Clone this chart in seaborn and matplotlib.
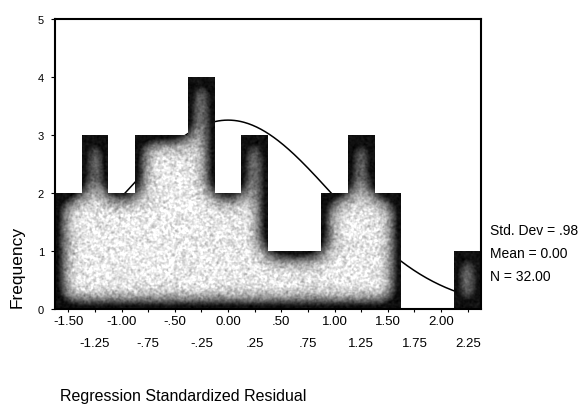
import numpy as np
import pandas as pd
import matplotlib
matplotlib.use("Agg")
import matplotlib.pyplot as plt
import seaborn as sns
from matplotlib.path import Path

# Histogram of regression standardized residuals
bin_centers = [-1.50, -1.25, -1.00, -0.75, -0.50, -0.25, 0.00, 0.25,
               0.50, 0.75, 1.00, 1.25, 1.50, 1.75, 2.00, 2.25]
counts = [2, 3, 2, 3, 3, 4, 2, 3, 1, 1, 2, 3, 2, 0, 0, 1]

upper_ticks = [-1.50, -1.00, -0.50, 0.00, 0.50, 1.00, 1.50, 2.00]
upper_labels = ["-1.50", "-1.00", "-.50", "0.00", ".50", "1.00", "1.50", "2.00"]
lower_ticks = [-1.25, -0.75, -0.25, 0.25, 0.75, 1.25, 1.75, 2.25]
lower_labels = ["-1.25", "-.75", "-.25", ".25", ".75", "1.25", "1.75", "2.25"]
y_ticks = [0, 1, 2, 3, 4, 5]

std_dev = 0.98
mean = 0.00
n_cases = 32
bin_width = 0.25

sns.set_style("ticks", {"text.color": "black", "xtick.color": "black",
                        "ytick.color": "black", "axes.labelcolor": "black"})
plt.rcParams["font.family"] = ["Liberation Sans", "DejaVu Sans"]

W_PX, H_PX = 581, 410
fig = plt.figure(figsize=(W_PX / 100, H_PX / 100), dpi=100)
ax_left, ax_right, ax_top, ax_bottom = 55, 481, 20, 310
ax = fig.add_axes([ax_left / W_PX, 1 - ax_bottom / H_PX,
                   (ax_right - ax_left) / W_PX, (ax_bottom - ax_top) / H_PX])

edges = [c - bin_width / 2 for c in bin_centers] + [bin_centers[-1] + bin_width / 2]
x_lo, x_hi = edges[0], edges[-1]

df = pd.DataFrame({"residual": bin_centers, "count": counts})

# normal curve for the stated mean / std. dev, scaled to the counts
xs = np.linspace(x_lo, x_hi, 400)
curve = n_cases * bin_width * np.exp(-0.5 * ((xs - mean) / std_dev) ** 2) / (std_dev * np.sqrt(2 * np.pi))
ax.plot(xs, curve, color="black", linewidth=1.1, zorder=1)

sns.histplot(data=df, x="residual", weights="count", bins=edges, stat="count",
             color="#111111", alpha=1, edgecolor="none", linewidth=0, ax=ax, zorder=2)

ax.set_xlim(x_lo, x_hi)
ax.set_ylim(0, 5)

# shaded fill for the bars: dark along the outline, light stippled interior
img_w, img_h = ax_right - ax_left, ax_bottom - ax_top
col_x = x_lo + (np.arange(img_w) + 0.5) * (x_hi - x_lo) / img_w
row_y = (np.arange(img_h) + 0.5) * 5 / img_h
idx = np.clip(((col_x - x_lo) / bin_width).astype(int), 0, len(counts) - 1)
col_h = np.array(counts, dtype=float)[idx]
mask = (row_y[:, None] < col_h[None, :]).astype(float)


def gaussian_blur(a, sigma):
    r = max(1, int(3 * sigma))
    k = np.exp(-0.5 * (np.arange(-r, r + 1) / sigma) ** 2)
    k /= k.sum()
    padded = np.pad(a, r, mode="reflect") if sigma < 2 else np.pad(a, r)
    tmp = np.apply_along_axis(lambda v: np.convolve(v, k, mode="valid"), 1, padded)
    return np.apply_along_axis(lambda v: np.convolve(v, k, mode="valid"), 0, tmp)


b = gaussian_blur(mask, 11)
light = np.clip((b - 0.6) / 0.4, 0, 1) ** 1.2
grain = gaussian_blur(np.random.default_rng(3).normal(0, 1, light.shape), 0.8)
grain /= grain.std()
gray = np.clip(0.06 + 0.86 * light + grain * 0.055 * (0.3 + light), 0, 1)

im = ax.imshow(gray, cmap="gray", vmin=0, vmax=1, extent=(x_lo, x_hi, 0, 5),
               origin="lower", aspect="auto", interpolation="bilinear", zorder=3)
bar_paths = [p.get_path().transformed(p.get_patch_transform()) for p in ax.patches]
im.set_clip_path(Path.make_compound_path(*bar_paths), ax.transData)

for s in ax.spines.values():
    s.set_visible(True)
    s.set_linewidth(1.5)
    s.set_color("black")
    s.set_zorder(5)

ax.set_xticks(upper_ticks, upper_labels)
ax.set_xticks(lower_ticks, lower_labels, minor=True)
ax.set_yticks(y_ticks, [str(v) for v in y_ticks])
ax.tick_params(axis="x", which="major", length=2, width=0.8, pad=2.5, labelsize=9.5,
               colors="black")
ax.tick_params(axis="x", which="minor", length=2, width=0.8, pad=18, labelsize=9.5,
               colors="black")
ax.tick_params(axis="y", length=3, width=0.8, pad=5, labelsize=8, colors="black")
ax.set_xlabel("")
ax.set_ylabel("")

fig.text(60 / W_PX, 1 - 397 / H_PX, "Regression Standardized Residual",
         ha="left", va="center", fontsize=11.5, color="black")
fig.text(17 / W_PX, 1 - 267 / H_PX, "Frequency", rotation=90,
         ha="center", va="center", fontsize=12.5, color="black")

stats = [f"Std. Dev = {std_dev:.2f}".replace("0.", "."),
         f"Mean = {mean:.2f}",
         f"N = {n_cases:.2f}"]
for text, ypx in zip(stats, [231, 254, 277]):
    fig.text(490 / W_PX, 1 - ypx / H_PX, text, ha="left", va="center",
             fontsize=10, color="black")

fig.savefig("out.png", dpi=100)
